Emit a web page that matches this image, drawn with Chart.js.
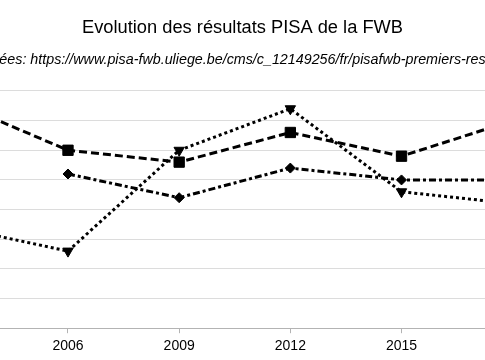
<!DOCTYPE html>
<html lang="fr">
<head>
<meta charset="utf-8">
<title>Evolution des résultats PISA de la FWB</title>
<script src="https://cdn.jsdelivr.net/npm/chart.js"></script>
<style>
  html, body { margin: 0; padding: 0; background: #fff; }
  #wrap { width: 485px; height: 360px; position: relative; overflow: hidden; }
</style>
</head>
<body>
<div id="wrap"><canvas id="pisa-chart"></canvas></div>
<script>
// données PISA FWB
const years = [2003, 2006, 2009, 2012, 2015, 2018];
const lecture = [477, 473, 490, 497, 483, 481];
const maths = [498, 490, 488, 493, 489, 495];
const sciences = [null, 486, 482, 487, 485, 485];
const yearTicks = [2006, 2009, 2012, 2015];

// portion visible de l'axe des années
const xMin = 2004.165;
const xMax = 2017.253;

const sourceText = 'Source des données: https://www.pisa-fwb.uliege.be/cms/c_12149256/fr/pisafwb-premiers-resultats-PISA-2018';

function toPoints(values) {
    return years.map((y, i) => ({ x: y, y: values[i] }))
        .filter(p => p.y !== null);
}

// sous-titre dessiné sans compression (le plugin title réduit le texte trop long)
const sousTitre = {
    id: 'sousTitre',
    afterDraw(chart) {
        const c = chart.ctx;
        c.save();
        c.font = 'italic 14.3px "Liberation Sans", Arial, sans-serif';
        c.fillStyle = '#000';
        c.textAlign = 'center';
        c.textBaseline = 'middle';
        c.fillText(sourceText, chart.width / 2, 60);
        c.restore();
    }
};

const ctx = document.getElementById('pisa-chart');

new Chart(ctx, {
    type: 'line',
    data: {
        datasets: [
            {
                label: 'Lecture',
                data: toPoints(lecture),
                borderColor: '#000',
                backgroundColor: '#000',
                borderWidth: 3,
                borderDash: [3, 3],
                pointStyle: 'triangle',
                rotation: 180,
                pointRadius: 6,
                pointBorderWidth: 1
            },
            {
                label: 'Mathématiques',
                data: toPoints(maths),
                borderColor: '#000',
                backgroundColor: '#000',
                borderWidth: 3,
                borderDash: [8, 4],
                pointStyle: 'rect',
                pointRadius: 7.3,
                pointBorderWidth: 1
            },
            {
                label: 'Sciences',
                data: toPoints(sciences),
                borderColor: '#000',
                backgroundColor: '#000',
                borderWidth: 3,
                borderDash: [7, 3, 3, 3],
                pointStyle: 'rectRot',
                pointRadius: 5,
                pointBorderWidth: 1
            }
        ]
    },
    options: {
        responsive: true,
        maintainAspectRatio: false,
        animation: false,
        layout: { autoPadding: false, padding: { top: 0, right: 0, bottom: 0, left: 0 } },
        plugins: {
            legend: { display: false },
            tooltip: { enabled: false },
            title: {
                display: true,
                text: 'Evolution des résultats PISA de la FWB',
                color: '#000',
                font: { family: '"Liberation Sans", Arial, sans-serif', size: 18.3, weight: 'normal' },
                padding: { top: 17, bottom: 52 }
            }
        },
        scales: {
            x: {
                type: 'linear',
                min: xMin,
                max: xMax,
                afterBuildTicks: scale => {
                    scale.ticks = yearTicks.map(v => ({ value: v }));
                },
                grid: {
                    display: true,
                    drawOnChartArea: false,
                    drawTicks: true,
                    tickLength: 5,
                    color: '#b3b3b3'
                },
                border: { display: true, color: '#b3b3b3', width: 1 },
                ticks: {
                    color: '#000',
                    padding: 5,
                    maxRotation: 0,
                    font: { family: '"Liberation Sans", Arial, sans-serif', size: 14 },
                    callback: v => String(v)
                }
            },
            y: {
                min: 460,
                max: 500,
                ticks: { display: false, stepSize: 5 },
                grid: { color: '#dcdcdc', lineWidth: 1, drawTicks: false },
                border: { display: false }
            }
        }
    },
    plugins: [sousTitre]
});
</script>
</body>
</html>
